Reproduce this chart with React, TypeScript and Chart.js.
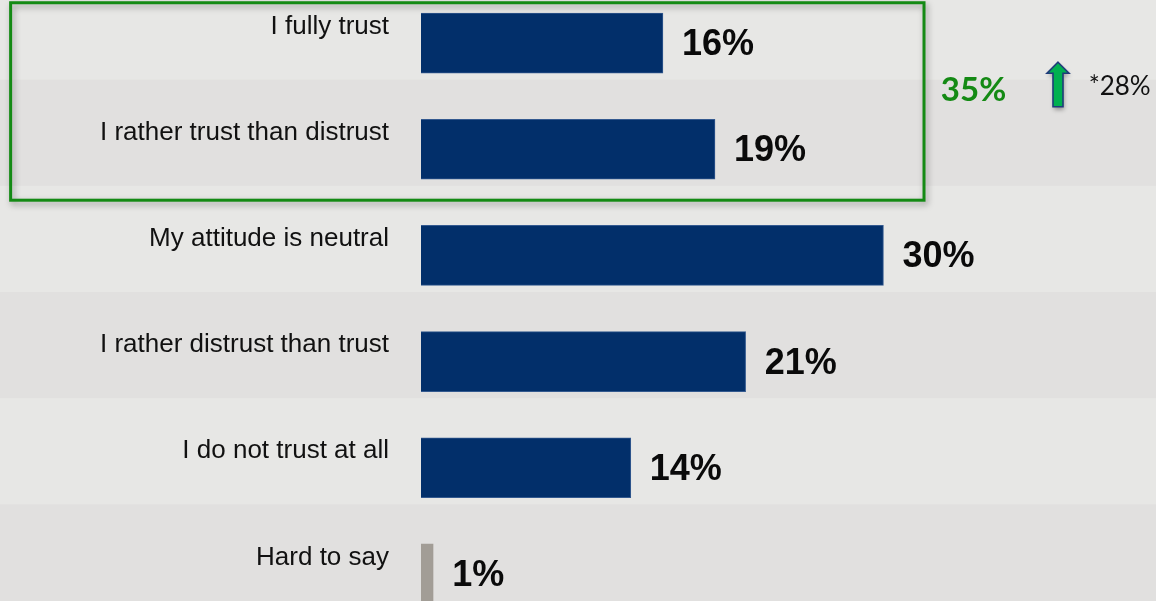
import React, { useEffect, useRef } from "react";
import { Chart, registerables } from "chart.js";

Chart.register(...registerables);

const categories = [
  "I fully trust",
  "I rather trust than distrust",
  "My attitude is neutral",
  "I rather distrust than trust",
  "I do not trust at all",
  "Hard to say",
];
const values = [15.8, 19.2, 30.2, 21.2, 13.7, 0.8];
const valueLabels = ["16%", "19%", "30%", "21%", "14%", "1%"];
const barColors = ["#022f6a", "#022f6a", "#022f6a", "#022f6a", "#022f6a", "#a29d96"];
const borderColors = ["#33598f", "#33598f", "#33598f", "#33598f", "#33598f", "#a29d96"];
const groupTotal = "35%";
const previousValue = "*28%";

const LABEL_SHIFT = 16.5;

const backgroundPlugin = {
  id: "stripes",
  beforeDraw(chart: any) {
    const { ctx, width, height } = chart;
    const y = chart.scales.y;
    ctx.save();
    ctx.fillStyle = "#e7e7e5";
    ctx.fillRect(0, 0, width, height);
    ctx.fillStyle = "#e1e0df";
    for (let i = 1; i < categories.length; i += 2) {
      const top = y.getPixelForValue(i - 0.5) - LABEL_SHIFT;
      const bottom = i + 0.5 >= categories.length ? height : y.getPixelForValue(i + 0.5) - LABEL_SHIFT;
      ctx.fillRect(0, top, width, bottom - top);
    }
    ctx.restore();
  },
};

function arrowPath(ctx: any, ax: number, tipY: number, baseY: number) {
  const headY = tipY + 11;
  ctx.beginPath();
  ctx.moveTo(ax, tipY);
  ctx.lineTo(ax + 11, headY);
  ctx.lineTo(ax + 5, headY);
  ctx.lineTo(ax + 5, baseY);
  ctx.lineTo(ax - 5, baseY);
  ctx.lineTo(ax - 5, headY);
  ctx.lineTo(ax - 11, headY);
  ctx.closePath();
}

const annotationPlugin = {
  id: "annotations",
  afterDatasetsDraw(chart: any) {
    const { ctx } = chart;
    const meta = chart.getDatasetMeta(0);
    const xs = chart.scales.x;
    const ys = chart.scales.y;
    ctx.save();
    // value labels
    ctx.font = "bold 36px 'Liberation Sans', Arial, sans-serif";
    ctx.fillStyle = "#0a0a0a";
    ctx.textAlign = "left";
    ctx.textBaseline = "middle";
    meta.data.forEach((bar: any, i: number) => {
      ctx.fillText(valueLabels[i], bar.x + 19, bar.y + 2);
    });

    // green group box
    const left = xs.getPixelForValue(-26.8);
    const right = xs.getPixelForValue(32.85);
    const top = ys.getPixelForValue(-0.38);
    const bottom = ys.getPixelForValue(1.48);
    ctx.save();
    ctx.shadowColor = "rgba(0,0,0,0.35)";
    ctx.shadowBlur = 6;
    ctx.shadowOffsetX = 2;
    ctx.shadowOffsetY = 3;
    ctx.strokeStyle = "#148a14";
    ctx.lineWidth = 3;
    ctx.strokeRect(left, top, right - left, bottom - top);
    ctx.restore();

    // group total
    const midY = ys.getPixelForValue(0.45);
    ctx.font = "bold 33px Lato, 'Open Sans', sans-serif";
    ctx.fillStyle = "#148a14";
    ctx.textAlign = "left";
    ctx.textBaseline = "middle";
    ctx.fillText(groupTotal, xs.getPixelForValue(33.95), midY);

    // arrow
    const ax = xs.getPixelForValue(41.6);
    const tipY = ys.getPixelForValue(0.18);
    const baseY = ys.getPixelForValue(0.6);
    ctx.save();
    ctx.shadowColor = "rgba(0,0,0,0.35)";
    ctx.shadowBlur = 4;
    ctx.shadowOffsetX = 1;
    ctx.shadowOffsetY = 3;
    arrowPath(ctx, ax, tipY, baseY);
    ctx.fillStyle = "#00b050";
    ctx.fill();
    ctx.restore();
    ctx.lineWidth = 1.6;
    ctx.strokeStyle = "#1f3c7a";
    ctx.lineJoin = "miter";
    arrowPath(ctx, ax, tipY, baseY);
    ctx.stroke();

    // previous value
    ctx.font = "26px Lato, 'Open Sans', sans-serif";
    ctx.fillStyle = "#111111";
    ctx.textBaseline = "middle";
    ctx.fillText(previousValue, xs.getPixelForValue(43.6), ys.getPixelForValue(0.41));
    ctx.restore();
  },
};

export default function App() {
  const canvasRef = useRef<HTMLCanvasElement | null>(null);

  useEffect(() => {
    if (!canvasRef.current) return;
    const chart = new Chart(canvasRef.current, {
      type: "bar",
      data: {
        labels: categories,
        datasets: [
          {
            data: values,
            backgroundColor: barColors,
            borderColor: borderColors,
            borderWidth: 1,
            barThickness: 60,
          },
        ],
      },
      options: {
        indexAxis: "y",
        animation: false,
        responsive: false,
        events: [],
        layout: { padding: 0 },
        plugins: {
          legend: { display: false },
          tooltip: { enabled: false },
        },
        scales: {
          x: {
            display: false,
            min: 0,
            max: 48,
          },
          y: {
            type: "category",
            offset: true,
            grid: { display: false, drawTicks: false },
            border: { display: false },
            afterFit: (scale: any) => {
              scale.width = 421;
              scale.paddingTop = 0;
              scale.paddingBottom = 0;
            },
            ticks: {
              padding: 32,
              color: "#111111",
              font: { family: "'Liberation Sans', Arial, sans-serif", size: 26, lineHeight: "33px" },
              callback: (_v: any, i: number) => [categories[i], ""],
            },
          },
        },
      },
      plugins: [backgroundPlugin, annotationPlugin],
    });
    return () => chart.destroy();
  }, []);

  return (
    <div style={{ position: "fixed", left: 0, top: -10, width: 1156, height: 637 }}>
      <canvas ref={canvasRef} width={1156} height={637} style={{ display: "block", width: 1156, height: 637 }} />
    </div>
  );
}
